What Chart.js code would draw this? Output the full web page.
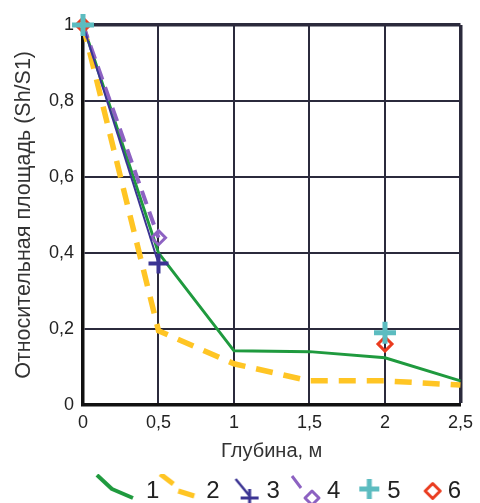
<!DOCTYPE html>
<html><head><meta charset="utf-8">
<script src="https://cdn.jsdelivr.net/npm/chart.js@4"></script>
<style>html,body{margin:0;padding:0;background:#fff}#w{width:480px;height:503px}</style>
</head><body><div id="w"><canvas id="c"></canvas></div>
<script>
const xTicks = [0, 0.5, 1, 1.5, 2, 2.5];
const yTicks = [0, 0.2, 0.4, 0.6, 0.8, 1];
const legendLabels = ['1', '2', '3', '4', '5', '6'];
const s1x = [0, 0.5, 1, 1.5, 2, 2.5];
const s1y = [1, 0.40, 0.142, 0.14, 0.124, 0.063];
const s2x = [0, 0.5, 1, 1.5, 2, 2.5];
const s2y = [1, 0.195, 0.108, 0.063, 0.063, 0.052];
const s3x = [0, 0.5];
const s3y = [1, 0.372];
const s4x = [0, 0.5];
const s4y = [1, 0.44];
const s5x = [0, 2];
const s5y = [1, 0.19];
const s6x = [0, 2];
const s6y = [1, 0.16];

const pts = (xs, ys) => xs.map((x, i) => ({x, y: ys[i]}));
const C = {g:'#1f9a3e', y:'#ffc524', b:'#3b3493', p:'#8d62c2', c:'#5cbcc0', r:'#ea3b1e'};
const FONT = '"Liberation Sans", Arial, sans-serif';

// legend icons: canvas 48x34, origin at centre
function icon(draw){
  const cv = document.createElement('canvas'); cv.width = 48; cv.height = 34;
  const g = cv.getContext('2d'); g.translate(24, 17); g.lineCap = 'butt'; g.lineJoin = 'round'; draw(g); return cv;
}
function line(g, p){ g.beginPath(); g.moveTo(p[0], p[1]); for (let i = 2; i < p.length; i += 2) g.lineTo(p[i], p[i+1]); g.stroke(); }
function cross(g, x, y, h){ g.beginPath(); g.moveTo(x-h, y); g.lineTo(x+h, y); g.moveTo(x, y-h); g.lineTo(x, y+h); g.stroke(); }
function diamond(g, x, y, h){ g.beginPath(); g.moveTo(x, y-h); g.lineTo(x+h, y); g.lineTo(x, y+h); g.lineTo(x-h, y); g.closePath(); g.stroke(); }
const icons = [
  icon(g=>{g.strokeStyle=C.g;g.lineWidth=4;line(g,[-20,-16,-5,-2,16,7]);}),
  icon(g=>{g.strokeStyle=C.y;g.lineWidth=5;line(g,[-17,-17,-4,-7]);line(g,[1,0,17,5]);}),
  icon(g=>{g.strokeStyle=C.b;g.lineWidth=2.5;line(g,[-2,-12,12,5]);g.lineWidth=3;cross(g,12,7,9);}),
  icon(g=>{g.strokeStyle=C.p;g.lineWidth=3;line(g,[-6,-15,3,-3]);g.lineWidth=3;diamond(g,14,7,7);}),
  icon(g=>{g.strokeStyle=C.c;g.lineWidth=5;cross(g,11,-2,10);}),
  icon(g=>{g.strokeStyle=C.r;g.lineWidth=3;diamond(g,14,0,7.5);})
];

const fmt = v => String(Math.round(v*10)/10).replace('.', ',');

new Chart(document.getElementById('c'), {
  type: 'scatter',
  data: { datasets: [
    {label:legendLabels[0], data:pts(s1x,s1y), showLine:true, borderColor:C.g, borderWidth:3, pointRadius:0, order:6, clip:false},
    {label:legendLabels[1], data:pts(s2x,s2y), showLine:true, borderColor:C.y, borderWidth:5.5, borderDash:[17,11], pointRadius:0, order:5, clip:false},
    {label:legendLabels[2], data:pts(s3x,s3y), showLine:true, borderColor:C.b, borderWidth:2, pointStyle:'cross', pointRadius:[0,10], pointBorderWidth:4, order:3, clip:false},
    {label:legendLabels[3], data:pts(s4x,s4y), showLine:true, borderColor:C.p, borderWidth:4, borderDash:[14,8], pointStyle:'rectRot', pointRadius:[0,7], pointBackgroundColor:'rgba(0,0,0,0)', pointBorderWidth:3, order:4, clip:false},
    {label:legendLabels[4], data:pts(s5x,s5y), showLine:false, pointStyle:'cross', pointRadius:11, borderColor:C.c, pointBorderWidth:5, order:1, clip:false},
    {label:legendLabels[5], data:pts(s6x,s6y), showLine:false, pointStyle:'rectRot', pointRadius:7, borderColor:C.r, backgroundColor:'rgba(0,0,0,0)', pointBorderWidth:3, order:2, clip:false}
  ]},
  options: {
    responsive:true, maintainAspectRatio:false, animation:false,
    layout:{padding:{left:0, right:18, top:25, bottom:-10}},
    plugins:{
      tooltip:{enabled:false},
      legend:{position:'bottom', align:'end',
        title:{display:true, text:'', font:{size:1}, padding:{top:3, bottom:3}},
        labels:{
        usePointStyle:true, pointStyleWidth:34, padding:1, color:'#222', font:{family:FONT, size:24},
        generateLabels: ch => ch.data.datasets.map((d,i)=>({text:d.label, pointStyle:icons[i], fillStyle:'transparent', strokeStyle:'transparent', lineWidth:0, datasetIndex:i, fontColor:'#222'}))
      }}
    },
    scales:{
      x:{type:'linear', min:xTicks[0], max:xTicks[xTicks.length-1],
        afterBuildTicks: s => { s.ticks = xTicks.map(v=>({value:v})); },
        afterFit: s => { s.height = 66; },
        ticks:{callback:fmt, color:'#222', font:{family:FONT, size:18}, padding:7, maxRotation:0},
        grid:{color:'#2b2a3c', lineWidth: c => (c.tick && c.tick.value===2.5) ? 3.5 : 2, drawTicks:false},
        border:{color:'#111', width:3.5},
        title:{display:true, text:'Глубина, м', color:'#333', font:{family:FONT, size:20}, padding:{top:0, bottom:7}}
      },
      y:{type:'linear', min:yTicks[0], max:yTicks[yTicks.length-1],
        afterBuildTicks: s => { s.ticks = yTicks.map(v=>({value:v})); },
        afterFit: s => { s.width = 83; },
        ticks:{callback:fmt, color:'#222', font:{family:FONT, size:18}, padding:9},
        grid:{color:'#2b2a3c', lineWidth: c => (c.tick && c.tick.value===1) ? 3.5 : 2, drawTicks:false},
        border:{color:'#111', width:3.5},
        title:{display:true, text:'Относительная площадь (Sh/S1)', color:'#333', font:{family:FONT, size:21.5}, padding:{top:11, bottom:0}}
      }
    }
  }
});
</script></body></html>
